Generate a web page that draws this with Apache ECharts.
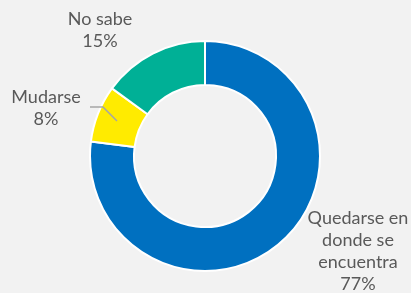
<!DOCTYPE html>
<html>
<head>
    <meta charset="utf-8">
    <title>Donut</title>
    <script src="https://cdn.jsdelivr.net/npm/echarts@6/dist/echarts.min.js"></script>
    <style>
        html, body { margin: 0; padding: 0; background: #f2f2f2; }
        #main { width: 411px; height: 293px; }
    </style>
</head>
<body>
<div id="main"></div>
<script type="text/javascript">
    // datos del grafico
    let categorias = ['Quedarse en\ndonde se\nencuentra', 'Mudarse', 'No sabe'];
    let valores = [77, 8, 15];
    let colores = ['#0070c0', '#ffeb00', '#00b096'];

    // posicion de cada etiqueta (centro del bloque de texto)
    let posEtiquetas = [[358, 251], [46, 108], [100, 30]];

    let myChart = echarts.init(document.getElementById('main'));
    let option = {
        backgroundColor: '#f2f2f2',
        series: [
            {
                type: 'pie',
                center: [205, 156],
                radius: [71, 115],
                startAngle: 90,
                clockwise: true,
                avoidLabelOverlap: false,
                itemStyle: {
                    borderColor: '#ffffff',
                    borderWidth: 2
                },
                label: {
                    show: true,
                    formatter: '{b}\n{c}%',
                    fontFamily: 'Lato',
                    fontSize: 18,
                    lineHeight: 22,
                    color: '#595959',
                    align: 'center'
                },
                labelLine: { show: false },
                labelLayout: function (params) {
                    let p = posEtiquetas[params.dataIndex];
                    return {
                        x: p[0],
                        y: p[1],
                        align: 'center',
                        verticalAlign: 'middle'
                    };
                },
                data: categorias.map((c, i) => ({
                    name: c,
                    value: valores[i],
                    itemStyle: { color: colores[i] }
                }))
            },
            {
                // capa transparente encima, solo para la linea guia de "Mudarse"
                type: 'pie',
                z: 5,
                silent: true,
                center: [205, 156],
                radius: [71, 115],
                startAngle: 90,
                clockwise: true,
                avoidLabelOverlap: false,
                itemStyle: { color: 'rgba(0,0,0,0)', borderWidth: 0 },
                label: { show: false },
                labelLine: { show: false },
                labelLayout: function (params) {
                    if (params.dataIndex !== 1) return {};
                    return {
                        x: 46,
                        y: 108,
                        align: 'center',
                        verticalAlign: 'middle',
                        labelLinePoints: [[117, 121], [103, 107], [90, 107]]
                    };
                },
                data: categorias.map((c, i) => ({
                    name: c,
                    value: valores[i],
                    label: { show: i === 1, formatter: ' ', fontSize: 18 },
                    labelLine: {
                        show: i === 1,
                        lineStyle: { color: '#a6a6a6', width: 1.5 }
                    }
                }))
            }
        ]
    };
    myChart.setOption(option);
</script>
</body>
</html>
